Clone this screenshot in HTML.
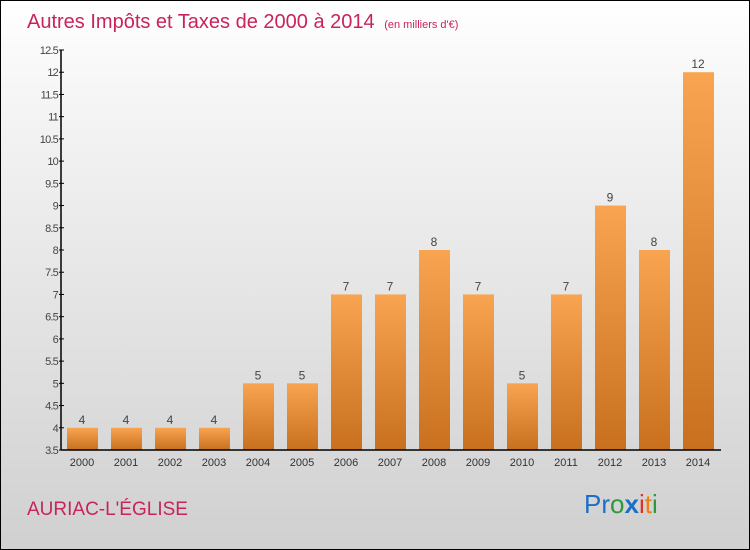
<!DOCTYPE html>
<html><head><meta charset="utf-8"><style>
body{margin:0}
#c{position:relative;width:748px;height:548px;border:1px solid #000;background:linear-gradient(#fff,#f4f4f4 20%,#d0d0d0);font-family:"Liberation Sans",sans-serif;overflow:hidden}
</style></head><body>
<div id="c">
<svg width="748" height="548" id="s">
<defs><linearGradient id="g" x1="0" y1="0" x2="0" y2="1"><stop offset="0" stop-color="#f8a450"/><stop offset="1" stop-color="#c8701e"/></linearGradient></defs>
<text x="26" y="27" font-size="20" fill="#c8245a">Autres Impôts et Taxes de 2000 à 2014 <tspan font-size="11" dx="4">(en milliers d'€)</tspan></text>
<text x="26" y="514" font-size="19" fill="#c8245a">AURIAC-L'ÉGLISE</text>
<text x="583" y="512" font-size="26"><tspan fill="#1a6fc8">Pr</tspan><tspan fill="#2a9a3a">o</tspan><tspan fill="#1a6fc8" font-weight="bold">x</tspan><tspan fill="#e03020">i</tspan><tspan fill="#f07d10">t</tspan><tspan fill="#2a9a3a">i</tspan></text>
</svg>
</div>
<script>
const years=["2000","2001","2002","2003","2004","2005","2006","2007","2008","2009","2010","2011","2012","2013","2014"];
const values=[4,4,4,4,5,5,7,7,8,7,5,7,9,8,12];
const ticks=[3.5,4,4.5,5,5.5,6,6.5,7,7.5,8,8.5,9,9.5,10,10.5,11,11.5,12,12.5];
const s=document.getElementById('s');const NS="http://www.w3.org/2000/svg";
const y=v=>449-(v-3.5)/9*400;const x=i=>81+i*44;
function mk(t,a,txt){const e=document.createElementNS(NS,t);for(const k in a)e.setAttribute(k,a[k]);if(txt!==undefined)e.textContent=txt;s.appendChild(e);return e;}
values.forEach((v,i)=>{
const r=mk('rect',{x:x(i)-15,y:y(v),width:31,height:y(3.5)-y(v),fill:'url(#g)'});


const t=mk('text',{x:x(i),y:y(v)-4,'font-size':12,fill:'#444','text-anchor':'middle'},String(v));


const xl=mk('text',{x:x(i),y:465,'font-size':11,fill:'#333','text-anchor':'middle'},years[i]);


});
ticks.forEach(t=>{
const l=mk('line',{x1:58,x2:63,y1:y(t),y2:y(t),stroke:'#000'});


const tx=mk('text',{x:57,y:y(t)+4,'font-size':11,fill:'#444','text-anchor':'end','letter-spacing':'-0.8'},String(t));


});
const ya=mk('line',{x1:60,x2:60,y1:49,y2:449,stroke:'#000','stroke-width':1.5});


const xa=mk('line',{x1:60,x2:720,y1:449,y2:449,stroke:'#000','stroke-width':1.5});


</script>
</body></html>
